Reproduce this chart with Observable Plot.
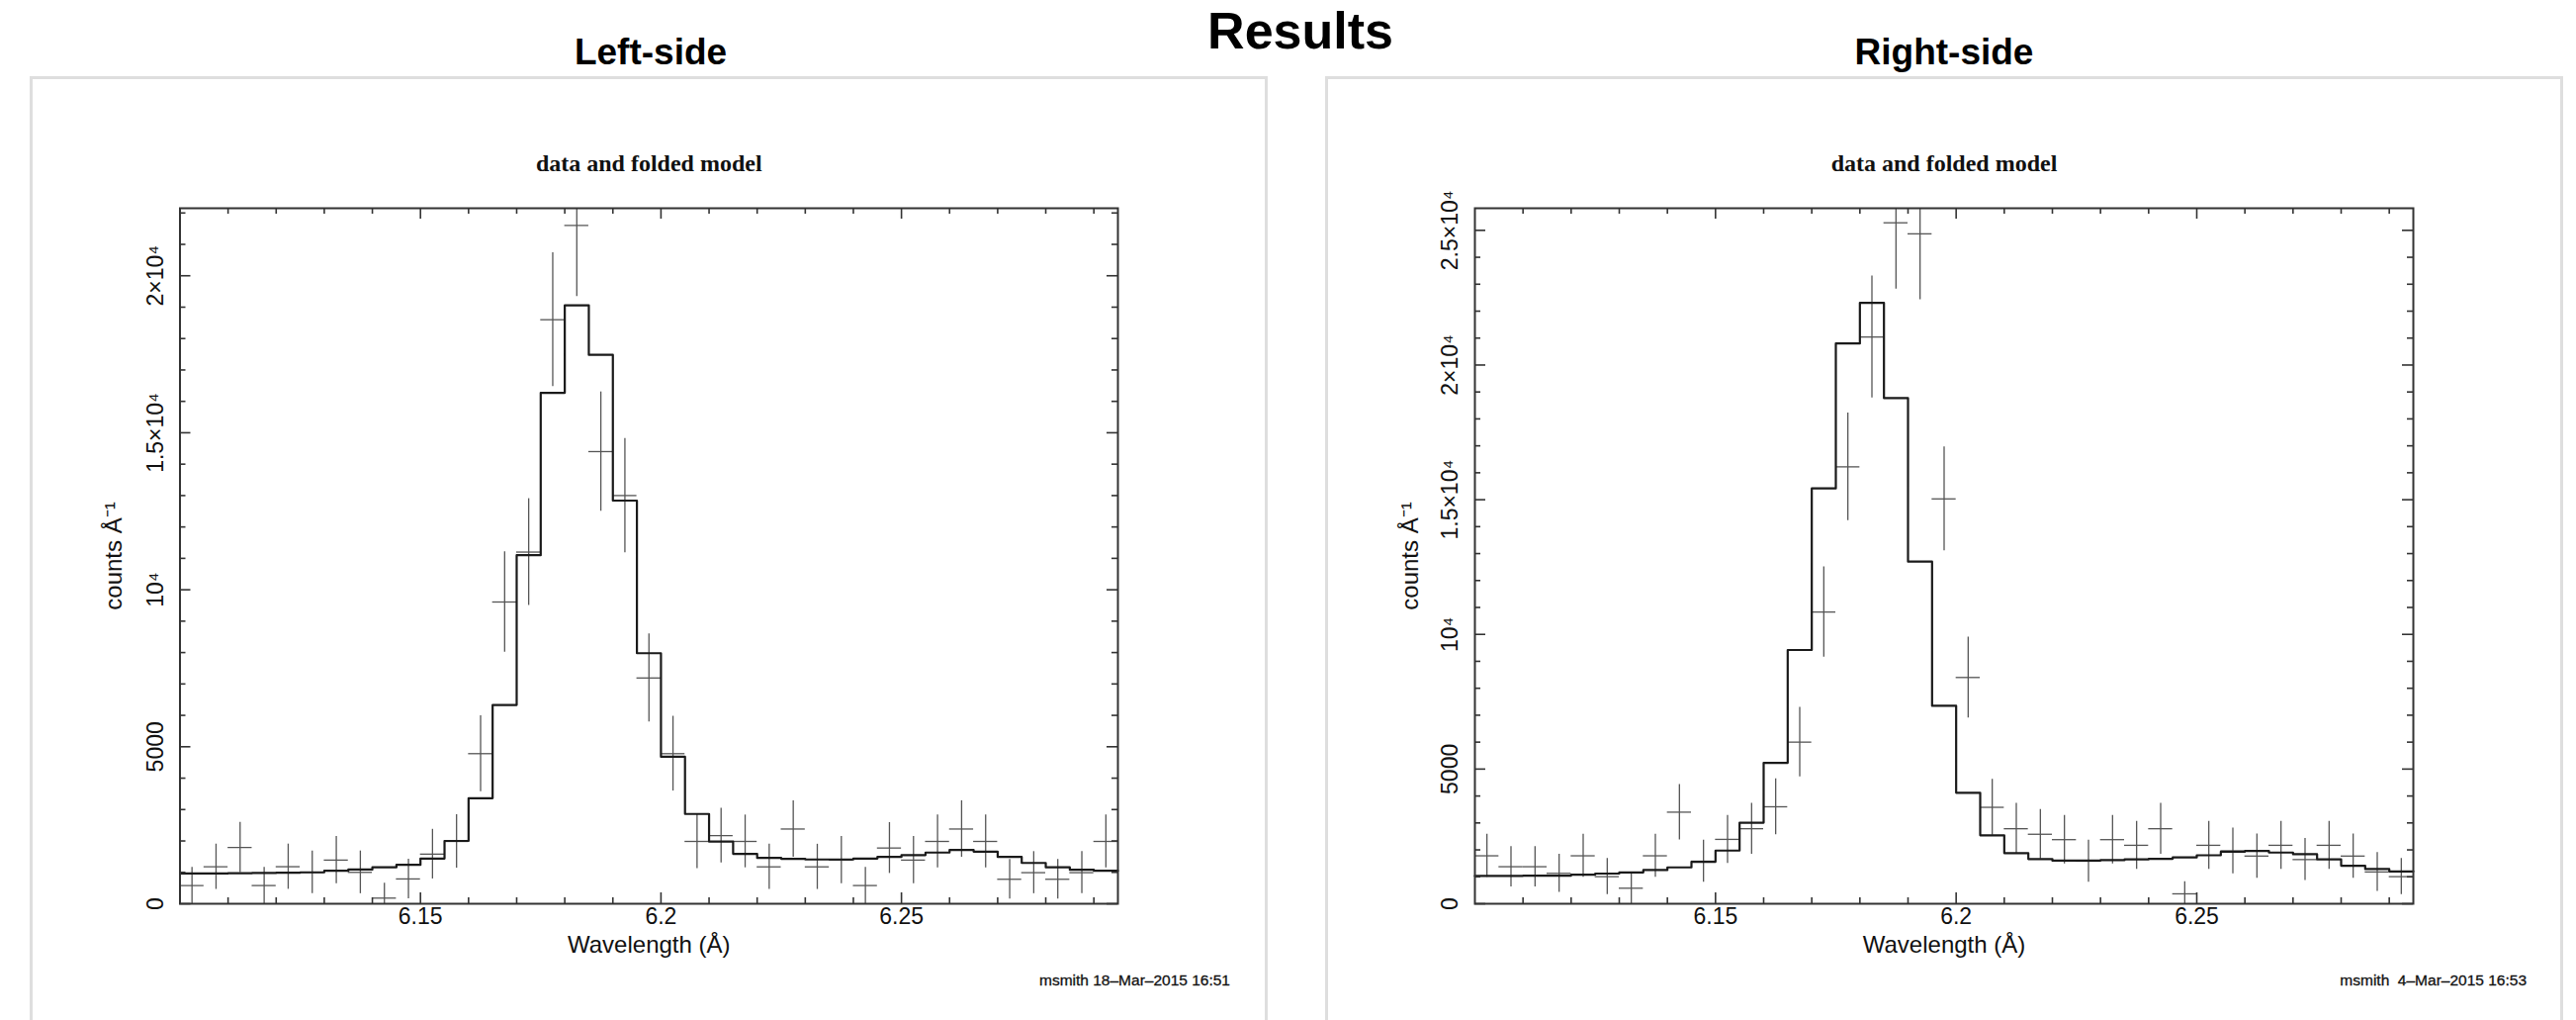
<!DOCTYPE html>
<html>
<head>
<meta charset="utf-8">
<script src="https://cdn.jsdelivr.net/npm/d3@7"></script>
<script src="https://cdn.jsdelivr.net/npm/@observablehq/plot@0.6"></script>
<style>
  html, body { margin: 0; padding: 0; background: #fff; }
  body { width: 2605px; height: 1031px; position: relative; overflow: hidden; font-family: "Liberation Sans", Arial, sans-serif; color: #000; }
  .abs { position: absolute; }
  .box { position: absolute; top: 77px; width: 1246px; height: 1000px; border: 3px solid #dedede; background: #fff; }
  .title { position: absolute; font-weight: bold; white-space: nowrap; transform: translateX(-50%); line-height: 1; }
  .caption { position: absolute; font-size: 15.5px; white-space: nowrap; transform: translateX(-100%); line-height: 1; color: #111; -webkit-text-stroke: 0.3px #111; }
  svg { overflow: visible; }
</style>
</head>
<body>
<div class="box" style="left:30px"></div>
<div class="box" style="left:1340px"></div>
<div class="title" style="left:1315px; top:5px; font-size:52px;">Results</div>
<div class="title" style="left:658px; top:34px; font-size:37px;">Left-side</div>
<div class="title" style="left:1966px; top:34px; font-size:37px;">Right-side</div>
<div id="left" class="abs" style="left:40px; top:100px;"></div>
<div id="right" class="abs" style="left:1350px; top:100px;"></div>
<div class="caption" style="left:1244px; top:983px;">msmith 18–Mar–2015 16:51</div>
<div class="caption" style="left:2555px; top:983px;">msmith&nbsp; 4–Mar–2015 16:53</div>
<script>
// Wavelength bins (Å): start of each bin, bin width 0.005 Å
const binStart = [6.100, 6.105, 6.110, 6.115, 6.120, 6.125, 6.130, 6.135, 6.140, 6.145,
                  6.150, 6.155, 6.160, 6.165, 6.170, 6.175, 6.180, 6.185, 6.190, 6.195,
                  6.200, 6.205, 6.210, 6.215, 6.220, 6.225, 6.230, 6.235, 6.240, 6.245,
                  6.250, 6.255, 6.260, 6.265, 6.270, 6.275, 6.280, 6.285, 6.290];
const binWidth = 0.005;

// Left-side: folded model (step), data and 1-sigma errors (counts / Å)
const leftModel = [966, 966, 970, 980, 990, 1000, 1050, 1090, 1160, 1240,
                   1440, 2000, 3360, 6330, 11100, 16270, 19060, 17480, 12840, 7980,
                   4680, 2860, 1980, 1590, 1460, 1430, 1410, 1410, 1440, 1490,
                   1550, 1630, 1715, 1660, 1490, 1300, 1160, 1080, 1050];
const leftData  = [580, 1180, 1790, 580, 1180, 1000, 1390, 1000, 180, 790,
                   1580, 1985, 4780, 9610, 11200, 18600, 21600, 14400, 13000, 7190,
                   4780, 1985, 2170, 1985, 1175, 2380, 1175, 1390, 580, 1775,
                   1390, 1985, 2380, 1985, 780, 990, 780, 990, 1985];
const leftErr   = [580, 720, 800, 580, 720, 680, 750, 680, 470, 630,
                   790, 850, 1210, 1600, 1700, 2130, 2260, 1900, 1820, 1400,
                   1190, 870, 870, 840, 720, 900, 720, 750, 580, 810,
                   750, 840, 900, 840, 630, 670, 630, 670, 840];

// Right-side
const rightModel = [1030, 1035, 1040, 1045, 1080, 1120, 1165, 1250, 1350, 1560,
                    1975, 3010, 5230, 9420, 15420, 20800, 22310, 18770, 12700, 7350,
                    4120, 2540, 1880, 1660, 1600, 1600, 1620, 1645, 1670, 1720,
                    1800, 1930, 1960, 1900, 1840, 1645, 1410, 1290, 1200];
const rightData  = [1780, 1375, 1375, 1130, 1780, 1006, 577, 1780, 3400, 1580,
                    2390, 2785, 3600, 6000, 10830, 16220, 21040, 25280, 24870, 15030,
                    8400, 3580, 2785, 2580, 2380, 1580, 2380, 2170, 2785, 368,
                    2170, 1960, 1770, 2170, 1640, 2170, 1770, 1180, 1006];
const rightErr   = [800, 750, 750, 710, 800, 670, 580, 800, 1030, 780,
                    890, 945, 1040, 1290, 1680, 2000, 2260, 2460, 2450, 1930,
                    1500, 1040, 945, 920, 900, 780, 900, 890, 945, 450,
                    890, 850, 820, 890, 780, 890, 820, 720, 670];

// Axes
const xDomain = [6.1, 6.295];
const xMajorTicks = [6.15, 6.2, 6.25];
const xTickLabels = ["6.15", "6.2", "6.25"];
const xMinorTicks = [6.11, 6.12, 6.13, 6.14, 6.16, 6.17, 6.18, 6.19, 6.21, 6.22, 6.23, 6.24, 6.26, 6.27, 6.28, 6.29];
const leftYMax = 22150;
const leftYMajor = [0, 5000, 10000, 15000, 20000];
const leftYLabels = ["0", "5000", "10⁴", "1.5×10⁴", "2×10⁴"];
const rightYMax = 25820;
const rightYMajor = [0, 5000, 10000, 15000, 20000, 25000];
const rightYLabels = ["0", "5000", "10⁴", "1.5×10⁴", "2×10⁴", "2.5×10⁴"];

function panel({model, data, err, yMax, yMajor, yLabels, width, height, ml, mr, mt, mb, yLabDx, yTitleDx}) {
  const innerW = width - ml - mr, innerH = height - mt - mb;
  const last = binStart.length - 1;
  const modelPts = binStart.map((x, i) => ({x, y: model[i]}))
    .concat([{x: binStart[last] + binWidth, y: model[last]}]);
  const pts = binStart.map((x, i) => ({x0: x, x1: x + binWidth, xc: x + binWidth / 2, y: data[i], e: err[i]}));
  const yMinor = d3.range(1000, yMax, 1000).filter(v => v % 5000 !== 0);
  const MAJ = 11, MIN = 6;
  const tk = {stroke: "#333", strokeWidth: 1.6};
  return Plot.plot({
    width, height, marginLeft: ml, marginRight: mr, marginTop: mt, marginBottom: mb,
    x: {domain: xDomain, axis: null},
    y: {domain: [0, yMax], axis: null},
    style: {fontFamily: "Liberation Sans, Arial, sans-serif", background: "transparent", overflow: "visible", color: "#111"},
    marks: [
      Plot.ruleX(pts, {x: "xc", y1: d => d.y - d.e, y2: d => d.y + d.e, stroke: "#555", strokeWidth: 1.3, clip: true}),
      Plot.ruleY(pts, {y: "y", x1: "x0", x2: "x1", stroke: "#555", strokeWidth: 1.3, clip: true}),
      Plot.line(modelPts, {x: "x", y: "y", curve: "step-after", stroke: "#1a1a1a", strokeWidth: 2.2}),
      // inward ticks on all four sides
      Plot.ruleX(xMajorTicks, {x: d => d, insetTop: innerH - MAJ, ...tk}),
      Plot.ruleX(xMajorTicks, {x: d => d, insetBottom: innerH - MAJ, ...tk}),
      Plot.ruleX(xMinorTicks, {x: d => d, insetTop: innerH - MIN, ...tk}),
      Plot.ruleX(xMinorTicks, {x: d => d, insetBottom: innerH - MIN, ...tk}),
      Plot.ruleY(yMajor, {y: d => d, insetRight: innerW - MAJ, ...tk}),
      Plot.ruleY(yMajor, {y: d => d, insetLeft: innerW - MAJ, ...tk}),
      Plot.ruleY(yMinor, {y: d => d, insetRight: innerW - MIN, ...tk}),
      Plot.ruleY(yMinor, {y: d => d, insetLeft: innerW - MIN, ...tk}),
      Plot.frame({stroke: "#333", strokeWidth: 2}),
      // tick labels
      Plot.text(xMajorTicks, {x: d => d, text: (d, i) => xTickLabels[i], frameAnchor: "bottom", dy: 20, fontSize: 23, fill: "#111"}),
      Plot.text(yMajor, {y: d => d, text: (d, i) => yLabels[i], frameAnchor: "left", dx: yLabDx, rotate: -90, textAnchor: "middle", fontSize: 23, fill: "#111"}),
      // axis titles
      Plot.text(["Wavelength (Å)"], {text: d => d, frameAnchor: "bottom", dy: 49, fontSize: 24, fill: "#111"}),
      Plot.text(["counts Å⁻¹"], {text: d => d, frameAnchor: "left", dx: yTitleDx, rotate: -90, textAnchor: "middle", fontSize: 24, fill: "#111"}),
      Plot.text(["data and folded model"], {text: d => d, frameAnchor: "top", dy: -55, fontFamily: "Liberation Serif, Times New Roman, serif", fontWeight: "bold", fontSize: 24, fill: "#111"})
    ]
  });
}

document.getElementById("left").append(panel({
  model: leftModel, data: leftData, err: leftErr, yMax: leftYMax, yMajor: leftYMajor, yLabels: leftYLabels,
  width: 1110, height: 890, ml: 141.5, mr: 20, mt: 110, mb: 77, yLabDx: -24.5, yTitleDx: -66.5
}));
document.getElementById("right").append(panel({
  model: rightModel, data: rightData, err: rightErr, yMax: rightYMax, yMajor: rightYMajor, yLabels: rightYLabels,
  width: 1110, height: 890, ml: 141, mr: 20, mt: 110, mb: 77, yLabDx: -25, yTitleDx: -65
}));
</script>
</body>
</html>
